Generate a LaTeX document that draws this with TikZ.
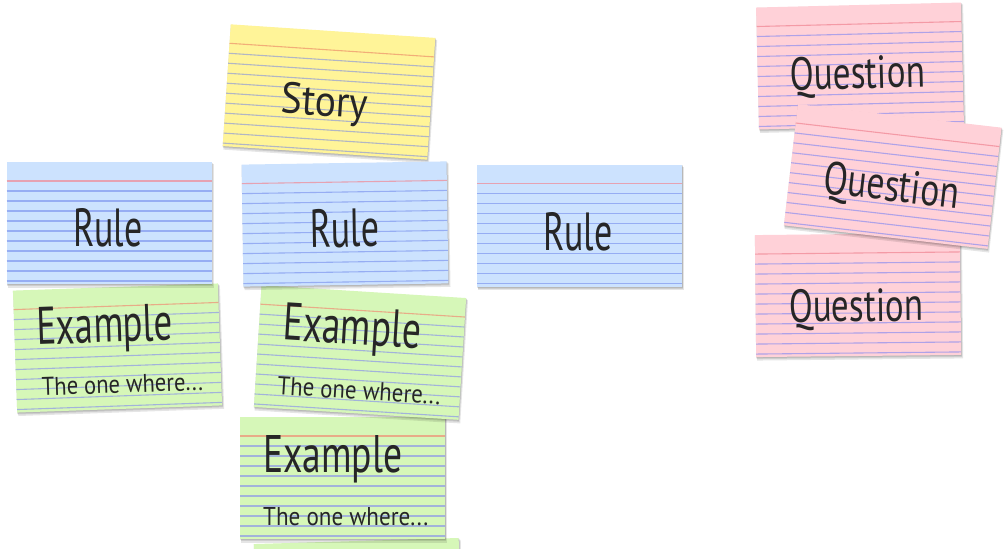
\documentclass[tikz,border=0pt]{standalone}
\usepackage{fontspec}
\setmainfont{PT Sans}
\usepackage{graphicx}
\definecolor{inkc}{HTML}{262626}
\definecolor{yfill}{HTML}{FFF498}
\definecolor{yline}{HTML}{B2B6C4}
\definecolor{yred}{HTML}{F2AE78}
\definecolor{bfill}{HTML}{CCE2FE}
\definecolor{bline}{HTML}{96ADF3}
\definecolor{bred}{HTML}{E6A2B2}
\definecolor{gfill}{HTML}{D6F7B8}
\definecolor{gline}{HTML}{A2B3DA}
\definecolor{gred}{HTML}{E8AC88}
\definecolor{pfill}{HTML}{FFD1D8}
\definecolor{pline}{HTML}{AFA2E8}
\definecolor{pred}{HTML}{F49AA6}
\tikzset{
  cardbox/.style={draw=none, minimum width=205pt, minimum height=122pt, inner sep=0pt},
  cardrule/.style={line width=1.1pt},
  cardshadow/.style={fill=black, opacity=0.10},
  handw/.style={text=inkc, inner sep=0pt, anchor=base west}
}
% #1 name, #2 x, #3 y, #4 clockwise angle, #5 fill, #6 line colour, #7 margin colour, #8 contents
\newcommand\indexcard[8]{%
  \begin{scope}[shift={(#2,#3)}, rotate=-#4, transform shape]
    \fill[cardshadow] (-101.5,-59) rectangle (104.5,64.5);
    \fill[cardshadow] (-102,-60) rectangle (103.5,63);
    \fill[cardshadow] (-102.5,-60.5) rectangle (103,62);
    \node[cardbox, fill=#5] (#1) at (0,0) {};
    \draw[cardrule, draw=#7] (-102.5,-42) -- (102.5,-42);
    \foreach \k in {1,...,10}
      \draw[cardrule, draw=#6] (-102.5,-42+10*\k) -- (102.5,-42+10*\k);
    #8
  \end{scope}}
\begin{document}
\begin{tikzpicture}[x=1pt,y=-1pt]
\useasboundingbox (0,0) rectangle (1007,549);
\fill[white] (0,0) rectangle (1007,549);
\clip (0,0) rectangle (1007,549);

% green example column (bottom first)
\indexcard{ex4}{358}{602}{-1.7}{gfill}{gline}{gred}{}
\indexcard{ex3}{342.5}{478}{0}{gfill}{gline}{gred}{%
  \node[handw] (ex3t) at (-79.5,-6) {\resizebox{139pt}{37pt}{Example}};
  \node[handw] (ex3s) at (-79.5,47) {\resizebox{165pt}{18pt}{The one where...}};}
\indexcard{ex2}{360}{352.5}{3.6}{gfill}{gline}{gred}{%
  \node[handw] (ex2t) at (-78.6,-7.6) {\resizebox{138pt}{37pt}{Example}};
  \node[handw] (ex2s) at (-80.2,47) {\resizebox{163pt}{18pt}{The one where...}};}
\indexcard{ex1}{117.5}{348}{-2}{gfill}{gline}{gred}{%
  \node[handw] (ex1t) at (-80.3,-6) {\resizebox{136pt}{37pt}{Example}};
  \node[handw] (ex1s) at (-77.1,45) {\resizebox{161pt}{18pt}{The one where...}};}

% story
\indexcard{story}{329}{92}{3.8}{yfill}{yline}{yred}{%
  \node[handw] (storyt) at (-47.5,24) {\resizebox{87pt}{31pt}{Story}};}

% rules
\indexcard{rule1}{109}{223}{0}{bfill}{bline}{bred}{%
  \node[handw] (rule1t) at (-36,23) {\resizebox{69pt}{38pt}{Rule}};}
\indexcard{rule2}{345}{224}{-0.9}{bfill}{bline}{bred}{%
  \node[handw] (rule2t) at (-35,23) {\resizebox{69pt}{38pt}{Rule}};}
\indexcard{rule3}{579.5}{225.5}{0}{bfill}{bline}{bred}{%
  \node[handw] (rule3t) at (-36.5,24.5) {\resizebox{69pt}{38pt}{Rule}};}

% questions
\indexcard{q1}{860}{66}{-1.4}{pfill}{pline}{pred}{%
  \node[handw] (q1t) at (-70.5,22.5) {\resizebox{135pt}{33pt}{Question}};}
\indexcard{q3}{858}{295}{-0.6}{pfill}{pline}{pred}{%
  \node[handw] (q3t) at (-69.3,26.3) {\resizebox{134pt}{33pt}{Question}};}
\indexcard{q2}{892.75}{176.5}{6.6}{pfill}{pline}{pred}{%
  \node[handw] (q2t) at (-68.4,24.5) {\resizebox{136pt}{33pt}{Question}};}
\end{tikzpicture}
\end{document}
